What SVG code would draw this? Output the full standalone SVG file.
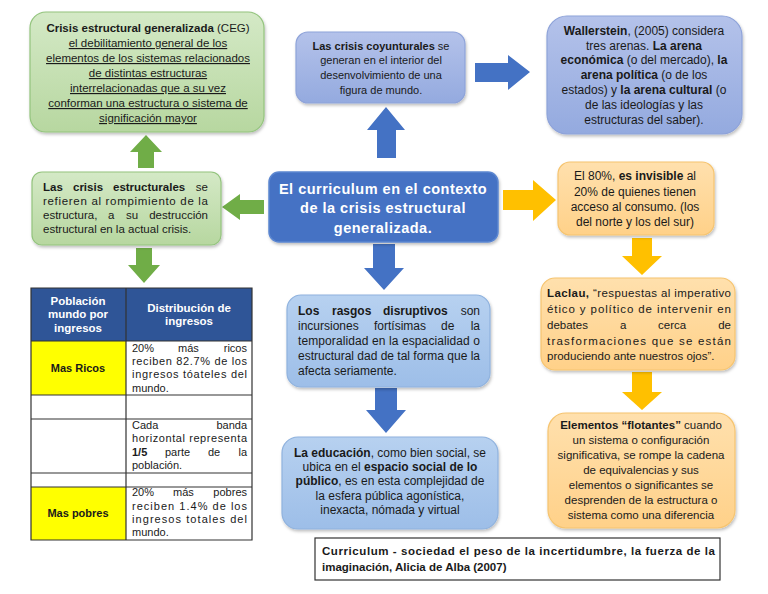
<svg xmlns="http://www.w3.org/2000/svg" width="768" height="594" viewBox="0 0 768 594">
<defs>
<linearGradient id="gGreen" x1="0" y1="0" x2="0" y2="1"><stop offset="0" stop-color="#d4e9c6"/><stop offset="1" stop-color="#b7d7a0"/></linearGradient>
<linearGradient id="gPeri" x1="0" y1="0" x2="0" y2="1"><stop offset="0" stop-color="#b4c2ea"/><stop offset="1" stop-color="#94aadf"/></linearGradient>
<linearGradient id="gSky" x1="0" y1="0" x2="0" y2="1"><stop offset="0" stop-color="#b7d1f0"/><stop offset="1" stop-color="#9dbee8"/></linearGradient>
<linearGradient id="gOrange" x1="0" y1="0" x2="0" y2="1"><stop offset="0" stop-color="#ffe0ad"/><stop offset="1" stop-color="#ffd189"/></linearGradient>
<filter id="sh" x="-10%" y="-10%" width="120%" height="130%"><feDropShadow dx="1" dy="2" stdDeviation="1.5" flood-color="#000" flood-opacity="0.25"/></filter>
<style>
text{font-family:"Liberation Sans",Arial,sans-serif;font-size:11px;fill:#1a1a1a}
.c{text-anchor:middle}
.e{text-anchor:end}
.b{font-weight:bold}
.u{text-decoration:underline}
.s115{font-size:11.5px}
.s12{font-size:12px}
.green{fill:url(#gGreen);stroke:#93c47d;stroke-width:1.2;filter:url(#sh)}
.peri{fill:url(#gPeri);stroke:#8ea3d9;stroke-width:1.2;filter:url(#sh)}
.sky{fill:url(#gSky);stroke:#8fb2de;stroke-width:1.2;filter:url(#sh)}
.orange{fill:url(#gOrange);stroke:#f6c46f;stroke-width:1.2;filter:url(#sh)}
.central{fill:#4472c4;stroke:#5b86d0;stroke-width:1.5;filter:url(#sh)}
.ct{font-size:14.5px;font-weight:bold;fill:#ffffff;letter-spacing:0.5px}
.ag{fill:#70ad47}
.ab{fill:#4472c4}
.ao{fill:#ffc000}
.th{fill:#ffffff;font-weight:bold;font-size:11.5px}
.grid{stroke:#333;stroke-width:1.2;fill:none}
.cite{font-weight:bold;font-size:11.5px}
</style>
</defs>
<rect width="768" height="594" fill="#ffffff"/>

<g id="connectors">
<polygon class="ab" points="377,158 377,130 367,130 386,107 405,130 396,130 396,158"/>
<polygon class="ab" points="475,63 508,63 508,55 530,72 508,90 508,82 475,82"/>
<polygon class="ag" points="138,168 138,152 130,152 146,135 162,152 154,152 154,168"/>
<polygon class="ag" points="264,200 240,200 240,194 222,207 240,220 240,214 264,214"/>
<polygon class="ag" points="136,248 152,248 152,265 160,265 144,283 128,265 136,265"/>
<polygon class="ab" points="373,244 395,244 395,268 404,268 384,290 364,268 373,268"/>
<polygon class="ab" points="375,388 397,388 397,410 406,410 386,433 366,410 375,410"/>
<polygon class="ao" points="503,190 533,190 533,180 556,200 533,221 533,210 503,210"/>
<polygon class="ao" points="632,238 652,238 652,256 662,256 642,275 622,256 632,256"/>
<polygon class="ao" points="632,372 652,372 652,392 662,392 642,410 622,392 632,392"/>
</g>

<g id="n-ceg" class="s115">
<rect class="green" x="30" y="12" width="234" height="120" rx="16"/>
<text class="c s115" x="148" y="32"><tspan class="b">Crisis estructural generalizada</tspan> (CEG)</text>
<text class="c u s115" x="148" y="47">el debilitamiento general de los</text>
<text class="c u s115" x="148" y="62">elementos de los sistemas relacionados</text>
<text class="c u s115" x="148" y="77">de distintas estructuras</text>
<text class="c u s115" x="148" y="92">interrelacionadas que a su vez</text>
<text class="c u s115" x="148" y="107">conforman una estructura o sistema de</text>
<text class="c u s115" x="148" y="122">significación mayor</text>
</g>

<g id="n-coyunturales">
<rect class="peri" x="296" y="32" width="169" height="71" rx="12"/>
<text class="c" x="381" y="50"><tspan class="b">Las crisis coyunturales</tspan> se</text>
<text class="c" x="381" y="64">generan en el interior del</text>
<text class="c" x="381" y="79">desenvolvimiento de una</text>
<text class="c" x="381" y="94">figura de mundo.</text>
</g>

<g id="n-wallerstein">
<rect class="peri" x="547" y="16" width="195" height="118" rx="20"/>
<text class="c s12" x="644" y="35"><tspan class="b">Wallerstein</tspan>, (2005) considera</text>
<text class="c s12" x="644" y="50">tres arenas. <tspan class="b">La arena</tspan></text>
<text class="c s12" x="644" y="64"><tspan class="b">económica</tspan> (o del mercado), <tspan class="b">la</tspan></text>
<text class="c s12" x="644" y="79"><tspan class="b">arena política</tspan> (o de los</text>
<text class="c s12" x="644" y="94">estados) y <tspan class="b">la arena cultural</tspan> (o</text>
<text class="c s12" x="644" y="109">de las ideologías y las</text>
<text class="c s12" x="644" y="124">estructuras del saber).</text>
</g>

<g id="n-estructurales">
<rect class="green" x="32" y="172" width="189" height="73" rx="10"/>
<text x="43" y="191" class="b s115">Las</text>
<text x="73" y="191" class="b s115">crisis</text>
<text x="113" y="191" class="b s115">estructurales</text>
<text x="208" y="191" class="e s115">se</text>
<text x="43" y="205" class="s115" textLength="165" lengthAdjust="spacing">refieren al rompimiento de la</text>
<text x="43" y="219" class="s115">estructura,</text>
<text x="108" y="219" class="s115">a</text>
<text x="126" y="219" class="s115">su</text>
<text x="208" y="219" class="e s115">destrucción</text>
<text x="43" y="233" class="s115">estructural en la actual crisis.</text>
</g>

<g id="n-central">
<rect class="central" x="269" y="172" width="229" height="70" rx="10"/>
<text class="c ct" x="383" y="194">El curriculum en el contexto</text>
<text class="c ct" x="383" y="213">de la crisis estructural</text>
<text class="c ct" x="383" y="233">generalizada.</text>
</g>

<g id="n-invisible">
<rect class="orange" x="558" y="162" width="156" height="73" rx="12"/>
<text class="c s12" x="635" y="180">El 80%, <tspan class="b">es invisible</tspan> al</text>
<text class="c s12" x="635" y="196">20% de quienes tienen</text>
<text class="c s12" x="635" y="211">acceso al consumo. (los</text>
<text class="c s12" x="635" y="226">del norte y los del sur)</text>
</g>

<g id="n-laclau">
<rect class="orange" x="541" y="278" width="194" height="92" rx="14"/>
<text x="547" y="297" class="s115" textLength="184" lengthAdjust="spacing"><tspan class="b">Laclau,</tspan> “respuestas al imperativo</text>
<text x="547" y="313" class="s115" textLength="184" lengthAdjust="spacing">ético y político de intervenir en</text>
<text x="547" y="329" class="s115">debates</text>
<text x="620" y="329" class="s115">a</text>
<text x="658" y="329" class="s115">cerca</text>
<text x="731" y="329" class="e s115">de</text>
<text x="547" y="345" class="s115" textLength="184" lengthAdjust="spacing">trasformaciones que se están</text>
<text x="547" y="360" class="s115">produciendo ante nuestros ojos”.</text>
</g>

<g id="n-flotantes">
<rect class="orange" x="548" y="413" width="187" height="115" rx="18"/>
<text class="c s115" x="641" y="429"><tspan class="b">Elementos “flotantes”</tspan> cuando</text>
<text class="c s115" x="641" y="444">un sistema o configuración</text>
<text class="c s115" x="641" y="459">significativa, se rompe la cadena</text>
<text class="c s115" x="641" y="474">de equivalencias y sus</text>
<text class="c s115" x="641" y="489">elementos o significantes se</text>
<text class="c s115" x="641" y="504">desprenden de la estructura o</text>
<text class="c s115" x="641" y="519">sistema como una diferencia</text>
</g>

<g id="n-rasgos">
<rect class="sky" x="287" y="295" width="203" height="92" rx="14"/>
<text x="298" y="315" class="b s12">Los</text>
<text x="332" y="315" class="b s12">rasgos</text>
<text x="383" y="315" class="b s12">disruptivos</text>
<text x="480" y="315" class="e s12">son</text>
<text x="298" y="330" class="s12">incursiones</text>
<text x="374" y="330" class="s12">fortísimas</text>
<text x="441" y="330" class="s12">de</text>
<text x="480" y="330" class="e s12">la</text>
<text x="298" y="345" class="s12" textLength="182" lengthAdjust="spacing">temporalidad en la espacialidad o</text>
<text x="298" y="360" class="s12" textLength="182" lengthAdjust="spacing">estructural dad de tal forma que la</text>
<text x="298" y="375" class="s12">afecta seriamente.</text>
</g>

<g id="n-educacion">
<rect class="sky" x="282" y="437" width="216" height="92" rx="16"/>
<text class="c s12" x="390" y="457"><tspan class="b">La educación</tspan>, como bien social, se</text>
<text class="c s12" x="390" y="471">ubica en el <tspan class="b">espacio social de lo</tspan></text>
<text class="c s12" x="390" y="485"><tspan class="b">público</tspan>, es en esta complejidad de</text>
<text class="c s12" x="390" y="500">la esfera pública agonística,</text>
<text class="c s12" x="390" y="514">inexacta, nómada y virtual</text>
</g>

<g id="n-tabla">
<rect x="31" y="288" width="221" height="53" fill="#2f5597"/>
<rect x="31" y="341" width="95" height="54" fill="#ffff00"/>
<rect x="31" y="487" width="95" height="53" fill="#ffff00"/>
<rect x="126" y="341" width="126" height="199" fill="#ffffff"/>
<rect x="31" y="395" width="95" height="92" fill="#ffffff"/>
<path class="grid" d="M31,288H252V540H31Z M126,288V540 M31,341H252 M31,395H252 M31,419H252 M31,473H252 M31,487H252"/>
<text class="c th" x="78" y="305">Población</text>
<text class="c th" x="78" y="318">mundo por</text>
<text class="c th" x="78" y="332">ingresos</text>
<text class="c th" x="189" y="312">Distribución de</text>
<text class="c th" x="189" y="325">ingresos</text>
<text class="c b" x="78" y="372">Mas Ricos</text>
<text x="132" y="352">20%</text>
<text x="178" y="352">más</text>
<text x="247" y="352" class="e">ricos</text>
<text x="132" y="365" textLength="115" lengthAdjust="spacing">reciben 82.7% de los</text>
<text x="132" y="378" textLength="115" lengthAdjust="spacing">ingresos tóateles del</text>
<text x="132" y="392">mundo.</text>
<text x="132" y="429">Cada</text>
<text x="247" y="429" class="e">banda</text>
<text x="132" y="442" textLength="115" lengthAdjust="spacing">horizontal representa</text>
<text x="132" y="456" class="b">1/5</text>
<text x="165" y="456">parte</text>
<text x="208" y="456">de</text>
<text x="247" y="456" class="e">la</text>
<text x="132" y="469">población.</text>
<text class="c b" x="78" y="517">Mas pobres</text>
<text x="132" y="496">20%</text>
<text x="173" y="496">más</text>
<text x="247" y="496" class="e">pobres</text>
<text x="132" y="510" textLength="115" lengthAdjust="spacing">reciben 1.4% de los</text>
<text x="132" y="523" textLength="115" lengthAdjust="spacing">ingresos totales del</text>
<text x="132" y="536">mundo.</text>
</g>

<g id="n-cita">
<rect x="315" y="538" width="405" height="42" fill="#ffffff" stroke="#333" stroke-width="1.2"/>
<text class="cite" x="322" y="555" textLength="393" lengthAdjust="spacing">Curriculum - sociedad el peso de la incertidumbre, la fuerza de la</text>
<text class="cite" x="322" y="571">imaginación, Alicia de Alba (2007)</text>
</g>
</svg>
